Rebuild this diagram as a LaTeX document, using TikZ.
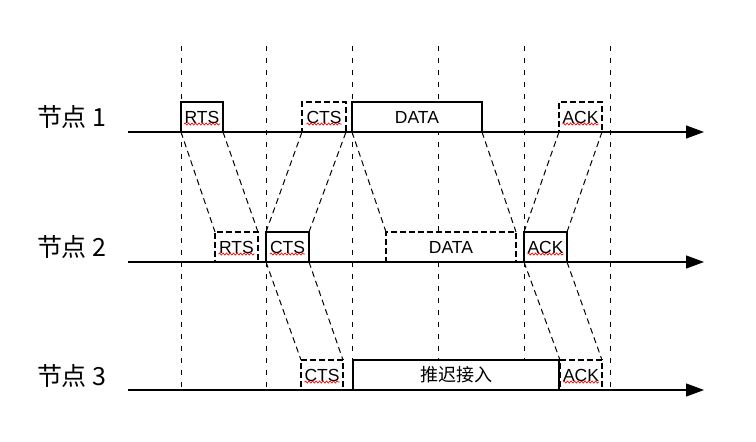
\documentclass[tikz,border=0pt]{standalone}
\usepackage{fontspec}
\setmainfont{Liberation Sans}
\newfontfamily\cjk{Noto Sans CJK SC}
\usetikzlibrary{arrows.meta,decorations.pathmorphing,calc}
\begin{document}
\begin{tikzpicture}[x=1pt,y=-1pt,
  every node/.style={inner sep=0pt, outer sep=0pt},
  box/.style={draw, fill=white, line width=1.1pt, minimum height=30pt, anchor=south west,
    font=\fontsize{17.5}{19}\selectfont},
  dbox/.style={box, dash pattern=on 6pt off 3pt},
  guide/.style={line width=0.9pt, dash pattern=on 5pt off 7pt},
  slant/.style={line width=1pt, dash pattern=on 6pt off 4pt},
  tline/.style={line width=1.1pt, -{Triangle[length=18pt,width=13pt]}},
  lab/.style={anchor=west, font=\cjk\fontsize{25}{28}\selectfont},
  spell/.style={red, line width=0.7pt, decorate, decoration={snake, amplitude=1pt, segment length=3.5pt}}
]
\useasboundingbox (0,0) rectangle (756,442);

% vertical guide lines
\foreach \i/\x in {1/181,2/266,3/352,4/438,5/524,6/610}{
  \coordinate (v\i t) at (\x,46);
  \coordinate (v\i b) at (\x,392);
  \draw[guide] (v\i t) -- (v\i b);
}

% labels
\node[lab] (n1) at (37,117) {节点 1};
\node[lab] (n2) at (37,247) {节点 2};
\node[lab] (n3) at (37,376) {节点 3};

% boxes line 1
\node[box,  minimum width=42pt]  (rtsA)  at (181,132) {RTS};
\node[dbox, minimum width=44pt]  (ctsA)  at (302,132) {CTS};
\node[box,  minimum width=130pt] (dataA) at (352,132) {DATA};
\node[dbox, minimum width=43pt]  (ackA)  at (559,132) {ACK};
% boxes line 2
\node[dbox, minimum width=43pt]  (rtsB)  at (215,262) {RTS};
\node[box,  minimum width=43pt]  (ctsB)  at (266,262) {CTS};
\node[dbox, minimum width=130pt] (dataB) at (386,262) {DATA};
\node[box,  minimum width=43pt]  (ackB)  at (524,262) {ACK};
% boxes line 3
\node[dbox, minimum width=42pt]  (ctsC)  at (301,390) {CTS};
\node[box,  minimum width=206pt, font=\cjk\fontsize{18}{20}\selectfont] (waitC) at (353,390) {推迟接入};
\node[dbox, minimum width=42pt]  (ackC)  at (560,390) {ACK};

% slanted connectors
\draw[slant] (rtsA.south west) -- (rtsB.north west);
\draw[slant] (rtsA.south east) -- (rtsB.north east);
\draw[slant] (ctsB.north west) -- (ctsA.south west);
\draw[slant] (ctsB.north east) -- (ctsA.south east);
\draw[slant] (dataA.south west) -- (dataB.north west);
\draw[slant] (dataA.south east) -- (dataB.north east);
\draw[slant] (ackB.north west) -- (ackA.south west);
\draw[slant] (ackB.north east) -- (ackA.south east);
\draw[slant] (ctsB.south west) -- (ctsC.north west);
\draw[slant] (ctsB.south east) -- (ctsC.north east);
\draw[slant] (ackB.south west) -- (ackC.north west);
\draw[slant] (ackB.south east) -- (ackC.north east);

% time lines
\coordinate (s1) at (128,132); \coordinate (e1) at (704,132);
\coordinate (s2) at (128,262); \coordinate (e2) at (704,262);
\coordinate (s3) at (128,390); \coordinate (e3) at (704,390);
\draw[tline] (s1) -- (e1);
\draw[tline] (s2) -- (e2);
\draw[tline] (s3) -- (e3);

% spell-check squiggles
\foreach \n/\h in {rtsA/18,ctsA/17.5,ackA/18,rtsB/18,ctsB/17.5,ackB/18,ctsC/17.5,ackC/18}{
  \draw[spell] ($(\n.center)+(-\h,7)$) -- ($(\n.center)+(\h,7)$);
}
\end{tikzpicture}
\end{document}
